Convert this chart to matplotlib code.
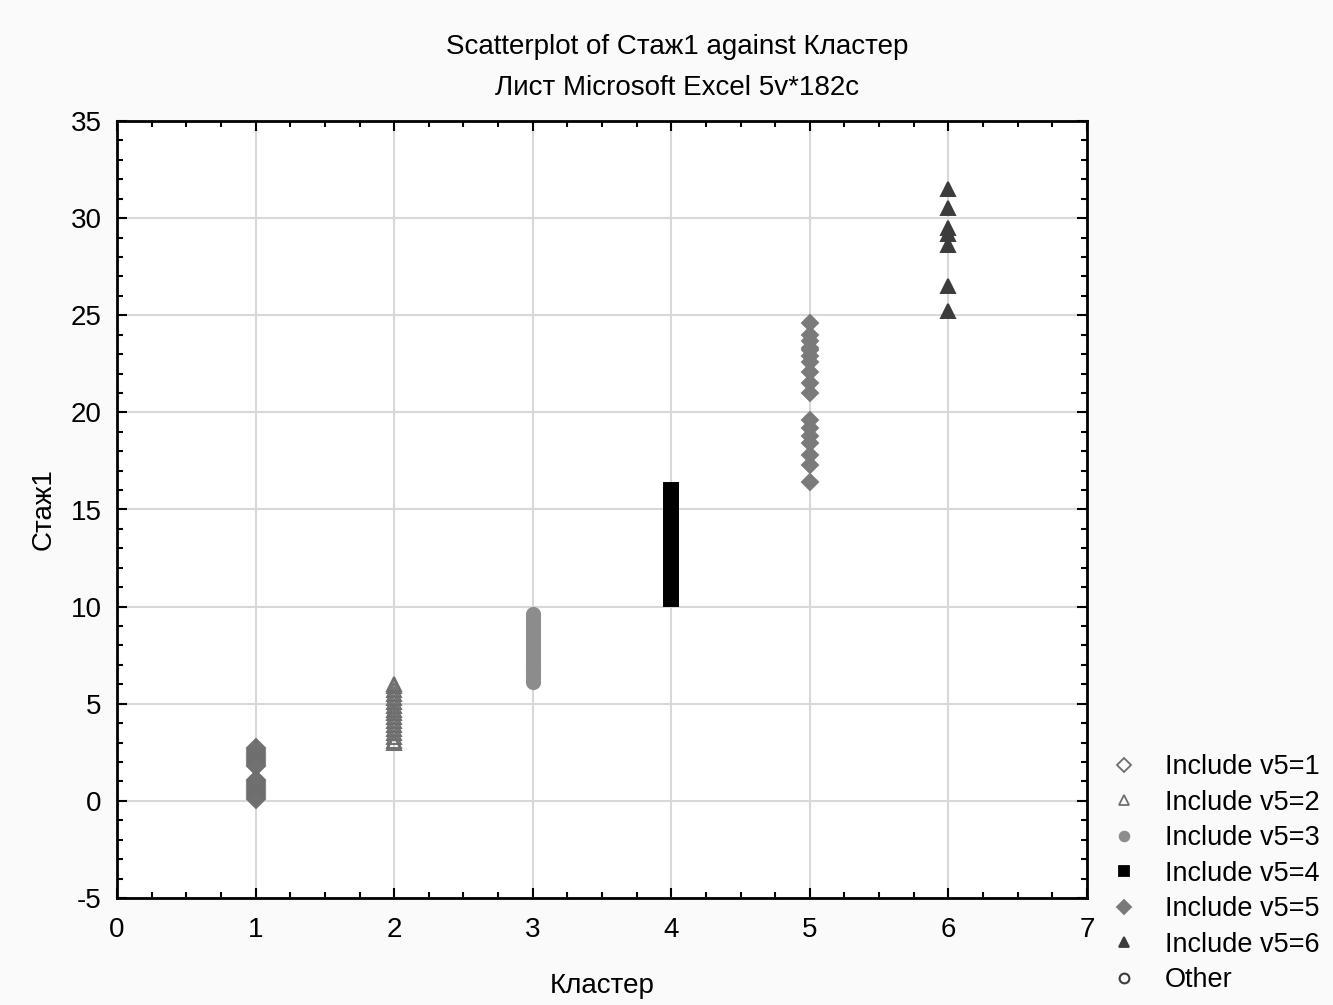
import matplotlib.pyplot as plt
from matplotlib.ticker import MultipleLocator
from matplotlib.lines import Line2D

plt.rcParams['font.family'] = ['Liberation Sans', 'DejaVu Sans']
plt.rcParams['axes.unicode_minus'] = False

# values, one list per cluster
v1 = [0.1, 0.2, 0.3, 0.4, 0.5, 0.6, 0.7, 0.8, 0.9, 1.0, 1.1,
      1.8, 1.9, 2.0, 2.1, 2.2, 2.3, 2.4, 2.5, 2.6, 2.7]
v2 = [3.0, 3.1, 3.3, 3.5, 3.7, 3.9, 4.1, 4.3, 4.5, 4.7, 4.9, 5.1, 5.3,
      5.5, 5.7, 5.9, 6.0]
v3 = [6.1, 6.3, 6.5, 6.7, 6.9, 7.0, 7.2, 7.4, 7.6, 7.8, 8.0, 8.2, 8.4,
      8.6, 8.8, 9.0, 9.2, 9.4, 9.6]
v4 = [10.4, 10.7, 11.0, 11.2, 11.5, 11.8, 12.0, 12.3, 12.5, 12.8, 13.0,
      13.3, 13.6, 13.9, 14.1, 14.4, 14.7, 15.0, 15.2, 15.5, 15.8, 16.0]
v5 = [16.4, 17.3, 17.8, 18.4, 18.8, 19.2, 19.6, 21.0, 21.5, 22.1, 22.6,
      22.9, 23.2, 23.3, 23.7, 24.0, 24.6]
v6 = [25.2, 26.5, 28.6, 29.2, 29.5, 30.5, 31.5]

clusters = [1, 2, 3, 4, 5, 6]
values = [v1, v2, v3, v4, v5, v6]
labels = ['Include v5=1', 'Include v5=2', 'Include v5=3', 'Include v5=4',
          'Include v5=5', 'Include v5=6', 'Other']

# marker, face, edge, size
styles = [('D', 'none', '#6e6e6e', 9.5),
          ('^', 'none', '#6e6e6e', 10.5),
          ('o', '#8c8c8c', '#8c8c8c', 9.5),
          ('s', 'black', 'black', 10),
          ('D', '#7a7a7a', '#7a7a7a', 8.5),
          ('^', '#3c3c3c', '#3c3c3c', 10)]

FS = 20

fig = plt.figure(figsize=(13.33, 10.05), dpi=100, facecolor='#fafafa')
ax = fig.add_axes([117/1333, 1 - 898/1005, (1087-117)/1333, (898-121)/1005])
ax.set_facecolor('white')

for c, v, (m, fc, ec, ms) in zip(clusters, values, styles):
    ax.plot([c] * len(v), v, linestyle='none', marker=m, markersize=ms,
            markerfacecolor=fc, markeredgecolor=ec, markeredgewidth=1.4,
            zorder=3)

ax.set_xlim(0, 7)
ax.set_ylim(-5, 35)
ax.xaxis.set_major_locator(MultipleLocator(1))
ax.xaxis.set_minor_locator(MultipleLocator(0.25))
ax.yaxis.set_major_locator(MultipleLocator(5))
ax.yaxis.set_minor_locator(MultipleLocator(1))
ax.grid(True, which='major', color='#d8d8d8', linewidth=1.5, zorder=0)
ax.set_axisbelow(True)
ax.tick_params(which='both', direction='in', top=True, right=True,
               labelsize=FS, width=1.5)
ax.tick_params(axis='x', which='major', pad=14)
ax.tick_params(axis='y', which='major', pad=11)
ax.tick_params(which='major', length=7)
ax.tick_params(which='minor', length=4)
for s in ax.spines.values():
    s.set_linewidth(2)

ax.set_xlabel('Кластер', fontsize=FS, labelpad=21)
ax.set_ylabel('Стаж1', fontsize=FS, labelpad=10)

fig.text(677/1333, 1 - 47/1005, 'Scatterplot of Стаж1 against Кластер',
         ha='center', va='center', fontsize=FS)
fig.text(677/1333, 1 - 88/1005, 'Лист Microsoft Excel 5v*182c',
         ha='center', va='center', fontsize=FS)

handles = []
for (m, fc, ec, ms) in styles:
    handles.append(Line2D([], [], linestyle='none', marker=m, markersize=7,
                          markerfacecolor=fc, markeredgecolor=ec,
                          markeredgewidth=1.3))
handles.append(Line2D([], [], linestyle='none', marker='o', markersize=7,
                      markerfacecolor='none', markeredgecolor='#3c3c3c',
                      markeredgewidth=1.5))
fig.legend(handles, labels, loc='lower left',
           bbox_to_anchor=(1112/1333, 1 - 993/1005), frameon=False,
           fontsize=19.5, handlelength=0.9, handletextpad=1.05,
           labelspacing=0.35, borderpad=0, borderaxespad=0)

fig.savefig('out.png', dpi=100, facecolor=fig.get_facecolor())
